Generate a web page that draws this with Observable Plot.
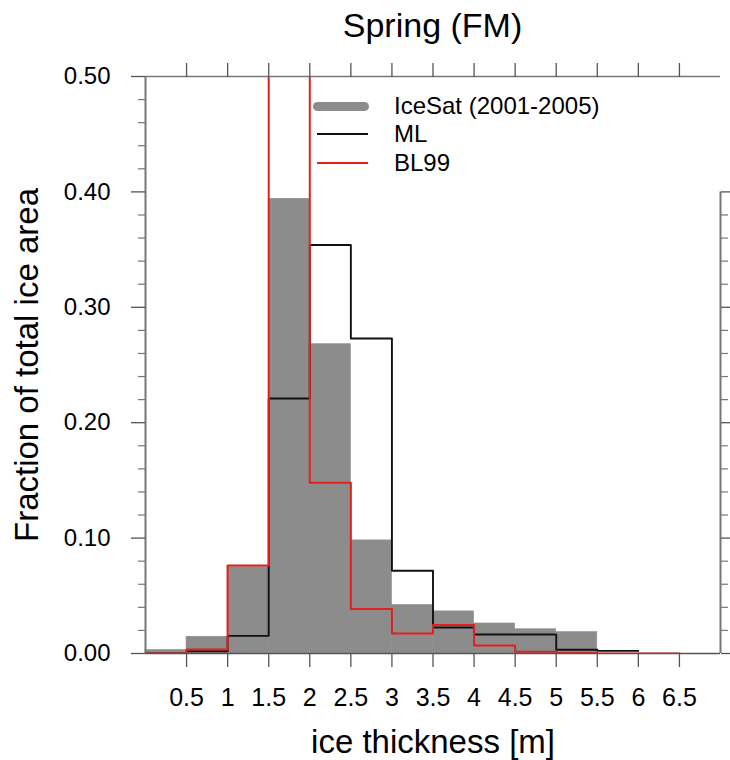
<!DOCTYPE html>
<html>
<head>
<meta charset="utf-8">
<script src="https://cdn.jsdelivr.net/npm/d3@7"></script>
<script src="https://cdn.jsdelivr.net/npm/@observablehq/plot@0.6"></script>
<style>
  body { margin: 0; background: #fff; }
  #wrap { position: relative; width: 730px; height: 760px; font-family: "Liberation Sans", Arial, Helvetica, sans-serif; background: #fff; }
  #title { height: 50px; line-height: 50px; font-size: 34px; text-align: center; padding-left: 145px; padding-right: 10px; box-sizing: border-box; color: #000; }
  .leg { position: absolute; left: 0; top: 0; width: 730px; height: 0; }
  .leg-item { position: absolute; left: 310px; height: 28px; line-height: 28px; font-size: 24px; color: #000; white-space: nowrap; }
  .leg-item .sw { position: absolute; top: 50%; }
  .leg-item .lbl { position: absolute; left: 84px; top: 0; }
</style>
</head>
<body>
<div id="wrap">
  <div id="title">Spring (FM)</div>
  <div id="chart"></div>
  <div class="leg" id="legend"></div>
</div>
<script>
// ---- data ----
const binLeft  = [0, 0.5, 1, 1.5, 2, 2.5, 3, 3.5, 4, 4.5, 5, 5.5, 6];
const binRight = [0.5, 1, 1.5, 2, 2.5, 3, 3.5, 4, 4.5, 5, 5.5, 6, 6.5];
const iceSat   = [0.003, 0.0145, 0.075, 0.394, 0.268, 0.098, 0.042, 0.0365, 0.026, 0.021, 0.0185, 0, 0];
const mlFrac   = [0, 0.002, 0.0153, 0.221, 0.354, 0.273, 0.0717, 0.0225, 0.0165, 0.0165, 0.0032, 0.0023];
const bl99Frac = [0, 0.0035, 0.0763, 0.56, 0.148, 0.0385, 0.0173, 0.0246, 0.007, 0.0015, 0.0005, 0, 0];

const xTicks     = [0.5, 1, 1.5, 2, 2.5, 3, 3.5, 4, 4.5, 5, 5.5, 6, 6.5];
const xTickText  = ["0.5", "1", "1.5", "2", "2.5", "3", "3.5", "4", "4.5", "5", "5.5", "6", "6.5"];
const yMajor     = [0, 0.1, 0.2, 0.3, 0.4, 0.5];
const yTickText  = ["0.00", "0.10", "0.20", "0.30", "0.40", "0.50"];
const yMinor  = [0.02, 0.04, 0.06, 0.08, 0.12, 0.14, 0.16, 0.18, 0.22, 0.24, 0.26, 0.28,
                 0.32, 0.34, 0.36, 0.38, 0.42, 0.44, 0.46, 0.48];
const rMajor  = [0, 0.1, 0.2, 0.3, 0.4];
const rMinor  = [0.02, 0.04, 0.06, 0.08, 0.12, 0.14, 0.16, 0.18, 0.22, 0.24, 0.26, 0.28,
                 0.32, 0.34, 0.36, 0.38];

const legendLabels = ["IceSat (2001-2005)", "ML", "BL99"];
const legendColors = ["#8c8c8c", "#111111", "#e3201b"];

// ---- tables ----
const bars = binLeft.map((x1, i) => ({x1, x2: binRight[i], y: iceSat[i]}));
function stepPoints(vals) {
  const pts = vals.map((v, i) => ({x: binLeft[i], y: v}));
  pts.push({x: binRight[vals.length - 1], y: vals[vals.length - 1]});
  return pts;
}
const mlPts = stepPoints(mlFrac);
const blPts = stepPoints(bl99Frac);

const tickColor = "#555";
const spineColor = "#777";
const blank = () => "";
const xFmt = d => xTickText[xTicks.indexOf(d)];
const yFmt = d => yTickText[yMajor.indexOf(d)];

const chart = Plot.plot({
  width: 730,
  height: 710,
  marginTop: 26,
  marginBottom: 107,
  marginLeft: 145,
  marginRight: 10,
  style: {fontFamily: "'Liberation Sans', Arial, Helvetica, sans-serif", background: "#fff", color: "#000", overflow: "visible"},
  x: {domain: [0, 7]},
  y: {domain: [0, 0.5]},
  marks: [
    Plot.rectY(bars, {x1: "x1", x2: "x2", y: "y", fill: "#8c8c8c", stroke: "#8c8c8c", strokeWidth: 0.6, inset: 0}),
    Plot.line(mlPts, {x: "x", y: "y", curve: "step-after", stroke: "#111", strokeWidth: 1.9, clip: true}),
    Plot.line(blPts, {x: "x", y: "y", curve: "step-after", stroke: "#e3201b", strokeWidth: 2, clip: true}),
    // spines
    Plot.ruleX([0], {y1: 0, y2: 0.5, stroke: spineColor, strokeWidth: 2}),
    Plot.ruleX([7], {y1: 0, y2: 0.4, stroke: spineColor, strokeWidth: 2}),
    Plot.ruleY([0.5], {x1: 0, x2: 7, stroke: spineColor, strokeWidth: 1.6}),
    Plot.ruleY([0], {x1: 0, x2: 7, stroke: "#555", strokeWidth: 1.6}),
    // axes
    Plot.axisX(xTicks, {anchor: "bottom", tickSize: 14, tickPadding: 21, tickFormat: xFmt, fontSize: 25, stroke: tickColor, strokeWidth: 1.3, label: null}),
    Plot.axisX(xTicks, {anchor: "top", tickSize: 14, tickFormat: blank, stroke: tickColor, strokeWidth: 1.3, label: null}),
    Plot.axisY(yMajor, {anchor: "left", tickSize: 14, tickPadding: 21, tickFormat: yFmt, fontSize: 24, stroke: tickColor, strokeWidth: 1.3, label: null}),
    Plot.axisY(yMinor, {anchor: "left", tickSize: 7, tickFormat: blank, stroke: "#777", strokeWidth: 1.2, label: null}),
    Plot.axisY(rMajor, {anchor: "right", tickSize: 9, tickFormat: blank, stroke: tickColor, strokeWidth: 1.3, label: null}),
    Plot.axisY(rMinor, {anchor: "right", tickSize: 7, tickFormat: blank, stroke: "#777", strokeWidth: 1.2, label: null}),
    // axis titles
    Plot.text(["ice thickness [m]"], {frameAnchor: "bottom", textAnchor: "middle", lineAnchor: "bottom", dy: 99, fontSize: 33, fill: "#000"}),
    Plot.text(["Fraction of total ice area"], {frameAnchor: "left", textAnchor: "middle", lineAnchor: "bottom", rotate: -90, dx: -108, fontSize: 33, fill: "#000"})
  ]
});
document.getElementById("chart").appendChild(chart);

// ---- legend ----
const legend = document.getElementById("legend");
const legendCenters = [106, 134, 163];
legendLabels.forEach((lab, i) => {
  const item = document.createElement("div");
  item.className = "leg-item";
  item.style.top = (legendCenters[i] - 14) + "px";
  const sw = document.createElement("div");
  sw.className = "sw";
  if (i === 0) {
    sw.style.left = "3px"; sw.style.width = "56px"; sw.style.height = "9px";
    sw.style.marginTop = "-4.5px"; sw.style.borderRadius = "4.5px";
  } else {
    sw.style.left = "7px"; sw.style.width = "51px"; sw.style.height = "1.3px";
    sw.style.marginTop = "-0.6px";
  }
  sw.style.background = legendColors[i];
  const t = document.createElement("span");
  t.className = "lbl";
  t.textContent = lab;
  item.appendChild(sw);
  item.appendChild(t);
  legend.appendChild(item);
});
</script>
</body>
</html>
